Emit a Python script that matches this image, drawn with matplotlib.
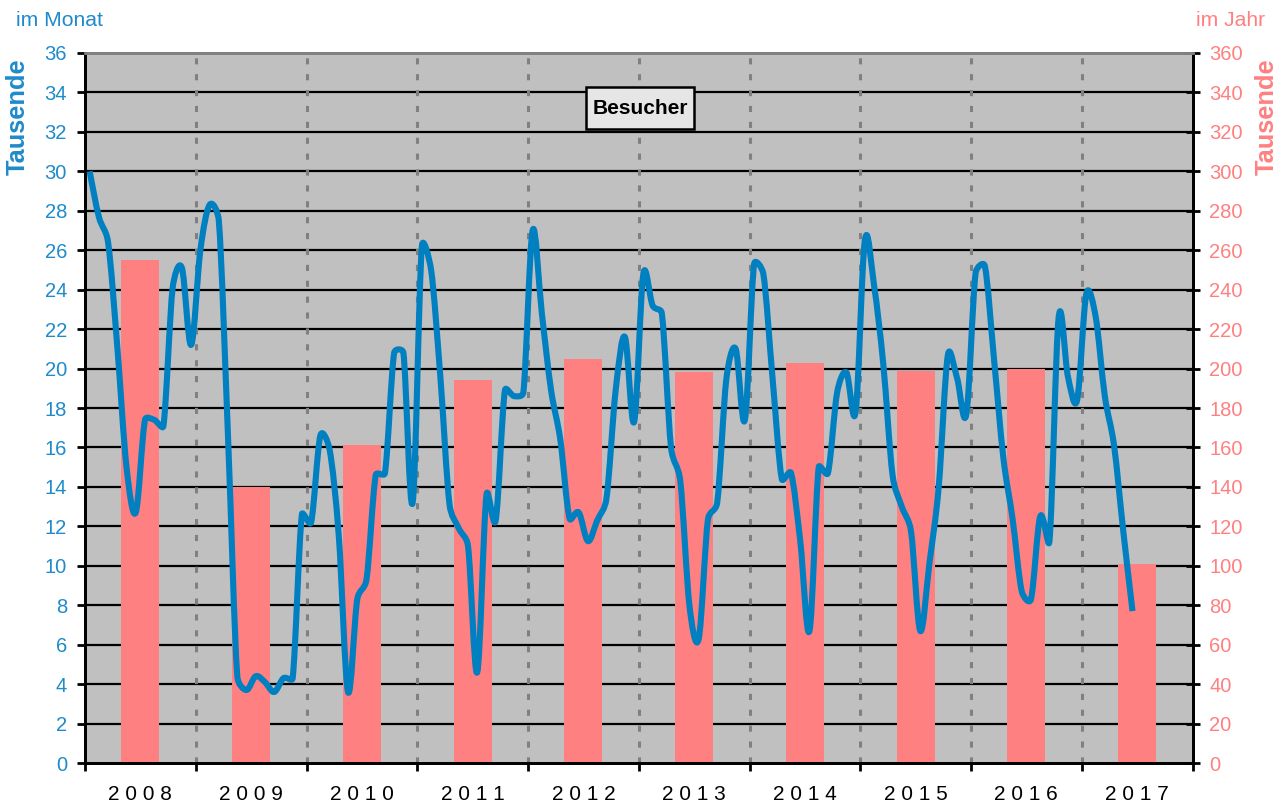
import numpy as np
import matplotlib
matplotlib.use("Agg")
import matplotlib.pyplot as plt
from matplotlib.path import Path
from matplotlib.patches import PathPatch, Rectangle

plt.rcParams['font.family'] = ['Liberation Sans', 'DejaVu Sans']

years = ['2008', '2009', '2010', '2011', '2012', '2013', '2014', '2015', '2016', '2017']

monthly = [
    30.0, 27.7, 26.4, 21.1, 15.0, 12.7, 17.4, 17.4, 17.1, 24.1, 25.1, 21.2,   # 2008
    26.0, 28.3, 27.5, 16.5, 4.4, 3.7, 4.4, 4.1, 3.6, 4.3, 4.3, 12.6,          # 2009
    12.2, 16.6, 15.9, 11.5, 3.6, 8.3, 9.3, 14.6, 14.7, 20.8, 20.8, 13.2,      # 2010
    26.2, 25.0, 19.6, 13.1, 11.9, 11.0, 4.6, 13.6, 12.3, 18.9, 18.6, 18.8,    # 2011
    27.0, 22.8, 18.9, 16.4, 12.4, 12.7, 11.25, 12.3, 13.4, 18.9, 21.6, 17.3,  # 2012
    24.8, 23.2, 22.8, 16.0, 14.3, 7.95, 6.3, 12.35, 13.2, 19.5, 21.0, 17.4,   # 2013
    25.3, 24.8, 19.5, 14.4, 14.7, 11.25, 6.7, 15.0, 14.7, 18.8, 19.8, 17.8,   # 2014
    26.5, 24.2, 20.2, 14.6, 13.0, 11.75, 6.7, 10.15, 14.0, 20.7, 19.5, 17.7,  # 2015
    24.85, 25.2, 20.45, 15.5, 12.4, 8.7, 8.3, 12.5, 11.25, 22.6, 19.6, 18.4,  # 2016
    23.8, 22.65, 18.6, 16.1, 11.75, 7.7,                                      # 2017
]

yearly = [255, 140, 161, 194, 205, 198, 203, 199, 200, 101]

left_ticks = list(range(0, 37, 2))
right_ticks = list(range(0, 361, 20))

BLUE_LINE = '#0080C0'
BLUE_TEXT = '#1E8BCB'
PINK = '#FF8080'
GREY_BG = '#C0C0C0'

fig = plt.figure(figsize=(12.87, 8.05), dpi=100)
ax = fig.add_axes([85/1287, 1-763/805, (1192.5-85)/1287, (763-53)/805])
ax2 = ax.twinx()

ax.set_zorder(2)
ax2.set_zorder(1)
ax.patch.set_visible(False)
ax2.patch.set_visible(True)
ax2.patch.set_facecolor(GREY_BG)

n_years = len(years)
ax.set_xlim(0, 12 * n_years)
ax.set_ylim(0, 36)
ax2.set_ylim(0, 360)

# horizontal gridlines (behind bars)
for v in right_ticks[1:-1]:
    ax2.axhline(v, color='black', lw=1.6, zorder=0.5)
# vertical dashed year separators
for i in range(1, n_years):
    ax2.axvline(12 * i, color='#808080', lw=2.2, ls=(0, (2, 3.2)), zorder=0.5)

# yearly bars
bar_x = [12 * i + 6 for i in range(n_years)]
ax2.bar(bar_x, yearly, width=4.1, color=PINK, zorder=1)

# monthly smoothed line (Excel-like Bezier smoothing, computed in display space)
xs = np.arange(len(monthly)) + 0.5
ys = np.array(monthly, dtype=float)
pts = ax.transData.transform(np.column_stack([xs, ys]))
n = len(pts)
seg_len = np.hypot(*(pts[1:] - pts[:-1]).T)
verts = [pts[0]]
codes = [Path.MOVETO]
for i in range(n - 1):
    p0 = pts[i - 1] if i > 0 else pts[i]
    p1 = pts[i]
    p2 = pts[i + 1]
    p3 = pts[i + 2] if i + 2 < n else pts[i + 1]
    L = seg_len[i]
    d1 = (p2 - p0) / 6.0
    d2 = (p3 - p1) / 6.0
    lim = 0.5 * L
    n1 = np.hypot(*d1)
    n2 = np.hypot(*d2)
    if n1 > lim and n1 > 0:
        d1 = d1 * lim / n1
    if n2 > lim and n2 > 0:
        d2 = d2 * lim / n2
    verts += [p1 + d1, p2 - d2, p2]
    codes += [Path.CURVE4, Path.CURVE4, Path.CURVE4]
verts_data = ax.transData.inverted().transform(np.array(verts))
path = Path(verts_data, codes)
ax.add_patch(PathPatch(path, fill=False, edgecolor=BLUE_LINE, lw=4.4,
                       capstyle='butt', joinstyle='round', zorder=3))

# spines
for a in (ax, ax2):
    a.spines['top'].set_color('#808080')
    a.spines['top'].set_linewidth(2)
    a.spines['left'].set_linewidth(2)
    a.spines['right'].set_linewidth(2)
    a.spines['bottom'].set_linewidth(2)

# left axis ticks
ax.set_yticks(left_ticks)
ax.set_yticklabels([str(t) for t in left_ticks])
ax.tick_params(axis='y', which='major', direction='out', length=6, width=2,
               color='black', labelcolor=BLUE_TEXT, labelsize=14.5, pad=7)

# right axis ticks
ax2.set_yticks(right_ticks)
ax2.set_yticklabels([str(t) for t in right_ticks])
ax2.tick_params(axis='y', which='major', direction='inout', length=10, width=2,
                color='black', labelcolor=PINK, labelsize=14.5, pad=7)

# x axis
ax.set_xticks([12 * i for i in range(n_years + 1)])
ax.set_xticklabels([''] * (n_years + 1))
ax.set_xticks(bar_x, minor=True)
ax.set_xticklabels([' '.join(y) for y in years], minor=True)
ax.tick_params(axis='x', which='major', direction='out', length=6, width=2, color='black')
ax.tick_params(axis='x', which='minor', length=0, labelsize=15, labelcolor='black', pad=16)
ax2.tick_params(axis='x', which='both', length=0)

# title box
ax.add_patch(Rectangle((0.4524, 0.893), 0.0975, 0.059, transform=ax.transAxes,
                       facecolor='#E6E6E6', edgecolor='black', lw=1.8, zorder=5))
ax.text(0.5011, 0.9215, 'Besucher', transform=ax.transAxes, ha='center', va='center',
        fontsize=15, fontweight='bold', color='black', zorder=6)

# outer labels
fig.text(16/1287, 1-26/805, 'im Monat', color=BLUE_TEXT, fontsize=15.2, ha='left', va='baseline')
fig.text(1265/1287, 1-26/805, 'im Jahr', color=PINK, fontsize=15.2, ha='right', va='baseline')
fig.text(18/1287, 1-117/805, 'Tausende', color=BLUE_TEXT, fontsize=18.3, fontweight='bold',
         rotation=90, ha='center', va='center')
fig.text(1267/1287, 1-117/805, 'Tausende', color=PINK, fontsize=18.3, fontweight='bold',
         rotation=90, ha='center', va='center')

fig.savefig('out.png', dpi=100, facecolor='white')
